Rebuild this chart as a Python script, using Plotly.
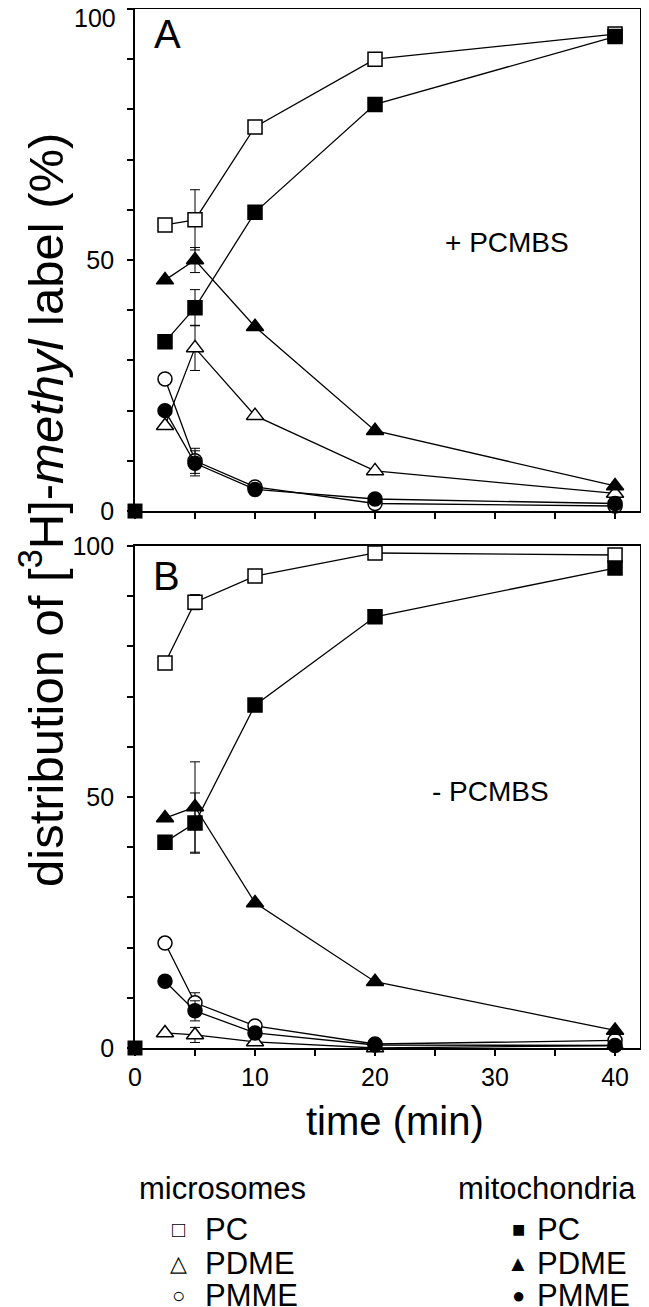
import plotly.graph_objects as go

# ---------------- data ----------------
time_min = [2.5, 5, 10, 20, 40]
start_time = [0]
start_value = [0]

# Panel A (+ PCMBS)
a_micro_pc = [57, 58, 76.5, 90, 95]
a_mito_pc = [33.7, 40.5, 59.5, 81, 94.5]
a_micro_pdme = [17, 32.5, 19, 8, 3.5]
a_mito_pdme = [46, 50, 36.7, 16, 5]
a_micro_pmme = [26.3, 10, 4.8, 1.5, 1]
a_mito_pmme = [20, 9.5, 4.3, 2.4, 1.5]
a_err_micro_pc = [0, 6, 0, 0, 0]
a_err_mito_pc = [0, 3.6, 0, 0, 0]
a_err_micro_pdme = [0, 4.5, 0, 0, 0]
a_err_mito_pdme = [0, 2.5, 0, 0, 0]
a_err_micro_pmme = [0, 2.5, 0, 0, 0]
a_err_mito_pmme = [0, 2.5, 0, 0, 0]

# Panel B (- PCMBS)
b_micro_pc = [76.7, 88.8, 94, 98.6, 98.2]
b_mito_pc = [41, 44.8, 68.3, 85.9, 95.6]
b_micro_pdme = [3, 2.6, 1.2, 0, 0.5]
b_mito_pdme = [45.8, 48, 28.9, 13.2, 3.5]
b_micro_pmme = [20.9, 9, 4.4, 0.8, 1.5]
b_mito_pmme = [13.3, 7.4, 3, 0.6, 0.5]
b_err_micro_pc = [0, 1.5, 0, 0, 0]
b_err_mito_pc = [0, 6, 0, 0, 0]
b_err_micro_pdme = [0, 1.5, 0, 0, 0]
b_err_mito_pdme = [0, 9, 0, 0, 0]
b_err_micro_pmme = [0, 2, 0, 0, 0]
b_err_mito_pmme = [0, 2, 0, 0, 0]

x_tickvals = [0, 5, 10, 15, 20, 25, 30, 35, 40]
x_ticktext = ["0", "", "10", "", "20", "", "30", "", "40"]
y_tickvals = [0, 10, 20, 30, 40, 50, 60, 70, 80, 90, 100]
y_ticktext_a = ["0", "", "", "", "", "50", "", "", "", "", ""]
y_ticktext_b = ["0", "", "", "", "", "50", "", "", "", "", "100"]
top_label = "100"

FONT = "Liberation Sans, Arial, Helvetica, sans-serif"

fig = go.Figure()


def add(y, err, symbol, filled, xa, ya):
    fig.add_trace(go.Scatter(
        x=time_min, y=y, mode="lines+markers", xaxis=xa, yaxis=ya,
        line=dict(color="black", width=1.3),
        marker=dict(symbol=symbol, size=14 if symbol != "triangle-up" else 15,
                    color="black" if filled else "white",
                    line=dict(color="black", width=1.5)),
        error_y=dict(type="data", array=err, color="black", thickness=1, width=5),
        cliponaxis=False, showlegend=False))


for xa, ya, d in [
    ("x", "y", [(a_micro_pc, a_err_micro_pc, "square", False),
                (a_micro_pdme, a_err_micro_pdme, "triangle-up", False),
                (a_micro_pmme, a_err_micro_pmme, "circle", False),
                (a_mito_pc, a_err_mito_pc, "square", True),
                (a_mito_pdme, a_err_mito_pdme, "triangle-up", True),
                (a_mito_pmme, a_err_mito_pmme, "circle", True)]),
    ("x2", "y2", [(b_micro_pc, b_err_micro_pc, "square", False),
                  (b_micro_pdme, b_err_micro_pdme, "triangle-up", False),
                  (b_micro_pmme, b_err_micro_pmme, "circle", False),
                  (b_mito_pc, b_err_mito_pc, "square", True),
                  (b_mito_pdme, b_err_mito_pdme, "triangle-up", True),
                  (b_mito_pmme, b_err_mito_pmme, "circle", True)]),
]:
    for y, err, sym, filled in d:
        add(y, err, sym, filled, xa, ya)
    fig.add_trace(go.Scatter(
        x=start_time, y=start_value, mode="markers", xaxis=xa, yaxis=ya,
        marker=dict(symbol="square", size=15, color="black"),
        cliponaxis=False, showlegend=False))

axis_common = dict(
    range=[0, 42.08], showline=True, linecolor="black", linewidth=1.8,
    mirror=True, ticks="outside", ticklen=6, tickwidth=1.5, tickcolor="black",
    showgrid=False, zeroline=False, tickvals=x_tickvals, ticktext=x_ticktext,
    tickfont=dict(family=FONT, size=25, color="black"), automargin=False)
yaxis_common = dict(
    range=[0, 100], showline=True, linecolor="black", linewidth=1.8,
    mirror=True, ticks="outside", ticklen=6, tickwidth=1.5, tickcolor="black",
    showgrid=False, zeroline=False, tickvals=y_tickvals,
    ticklabelstandoff=8, ticklabeloverflow="allow",
    tickfont=dict(family=FONT, size=25, color="black"), automargin=False)

# The page body adds an 8 px offset; the figure is sized so that the
# plot lands at the reference's pixel positions.
OFF = 8
fig.update_layout(
    width=649 - OFF, height=1307 - OFF,
    margin=dict(l=135 - OFF, r=9, t=9 - OFF, b=259, autoexpand=False),
    paper_bgcolor="white", plot_bgcolor="white",
    xaxis=dict(axis_common, domain=[0, 1], anchor="y", showticklabels=False),
    yaxis=dict(yaxis_common, domain=[0.5168, 1], anchor="x", ticktext=y_ticktext_a),
    xaxis2=dict(axis_common, domain=[0, 1], anchor="y2"),
    yaxis2=dict(yaxis_common, domain=[0, 0.4832], anchor="x2", ticktext=y_ticktext_b),
    font=dict(family=FONT, color="black"),
)

W = 505.0
H = 1039.0


def px(x):
    return (x - 135) / W


def py(y):
    return (1048 - y) / H


ann = []


def text(x, y, s, size, xanchor="center", yanchor="middle", angle=0):
    ann.append(dict(x=px(x), y=py(y), xref="paper", yref="paper", text=s,
                    showarrow=False, xanchor=xanchor, yanchor=yanchor,
                    textangle=angle, font=dict(family=FONT, size=size, color="black")))


text(118, 18, top_label, 25, xanchor="right")
text(152, 34, "A", 40, xanchor="left")
text(151, 576, "B", 40, xanchor="left")
text(507, 243, "+ PCMBS", 28)
text(490, 791, "- PCMBS", 28)
text(395, 1121, "time (min)", 40)
text(42, 510, "distribution of [<sup>3</sup>H]-<i>methyl</i> label (%)", 49, angle=-90)
text(222, 1188, "microsomes", 31)
text(547, 1188, "mitochondria", 31)
rows = [(1229, "PC", "□", "■"), (1263, "PDME", "△", "▲"), (1295, "PMME", "○", "●")]
for yy, lab, s_open, s_fill in rows:
    text(178, yy, s_open, 22, xanchor="center")
    text(203, yy, lab, 31, xanchor="left")
    text(518, yy, s_fill, 22, xanchor="center")
    text(535, yy, lab, 31, xanchor="left")

fig.update_layout(annotations=ann)
fig.write_html("out.html")
